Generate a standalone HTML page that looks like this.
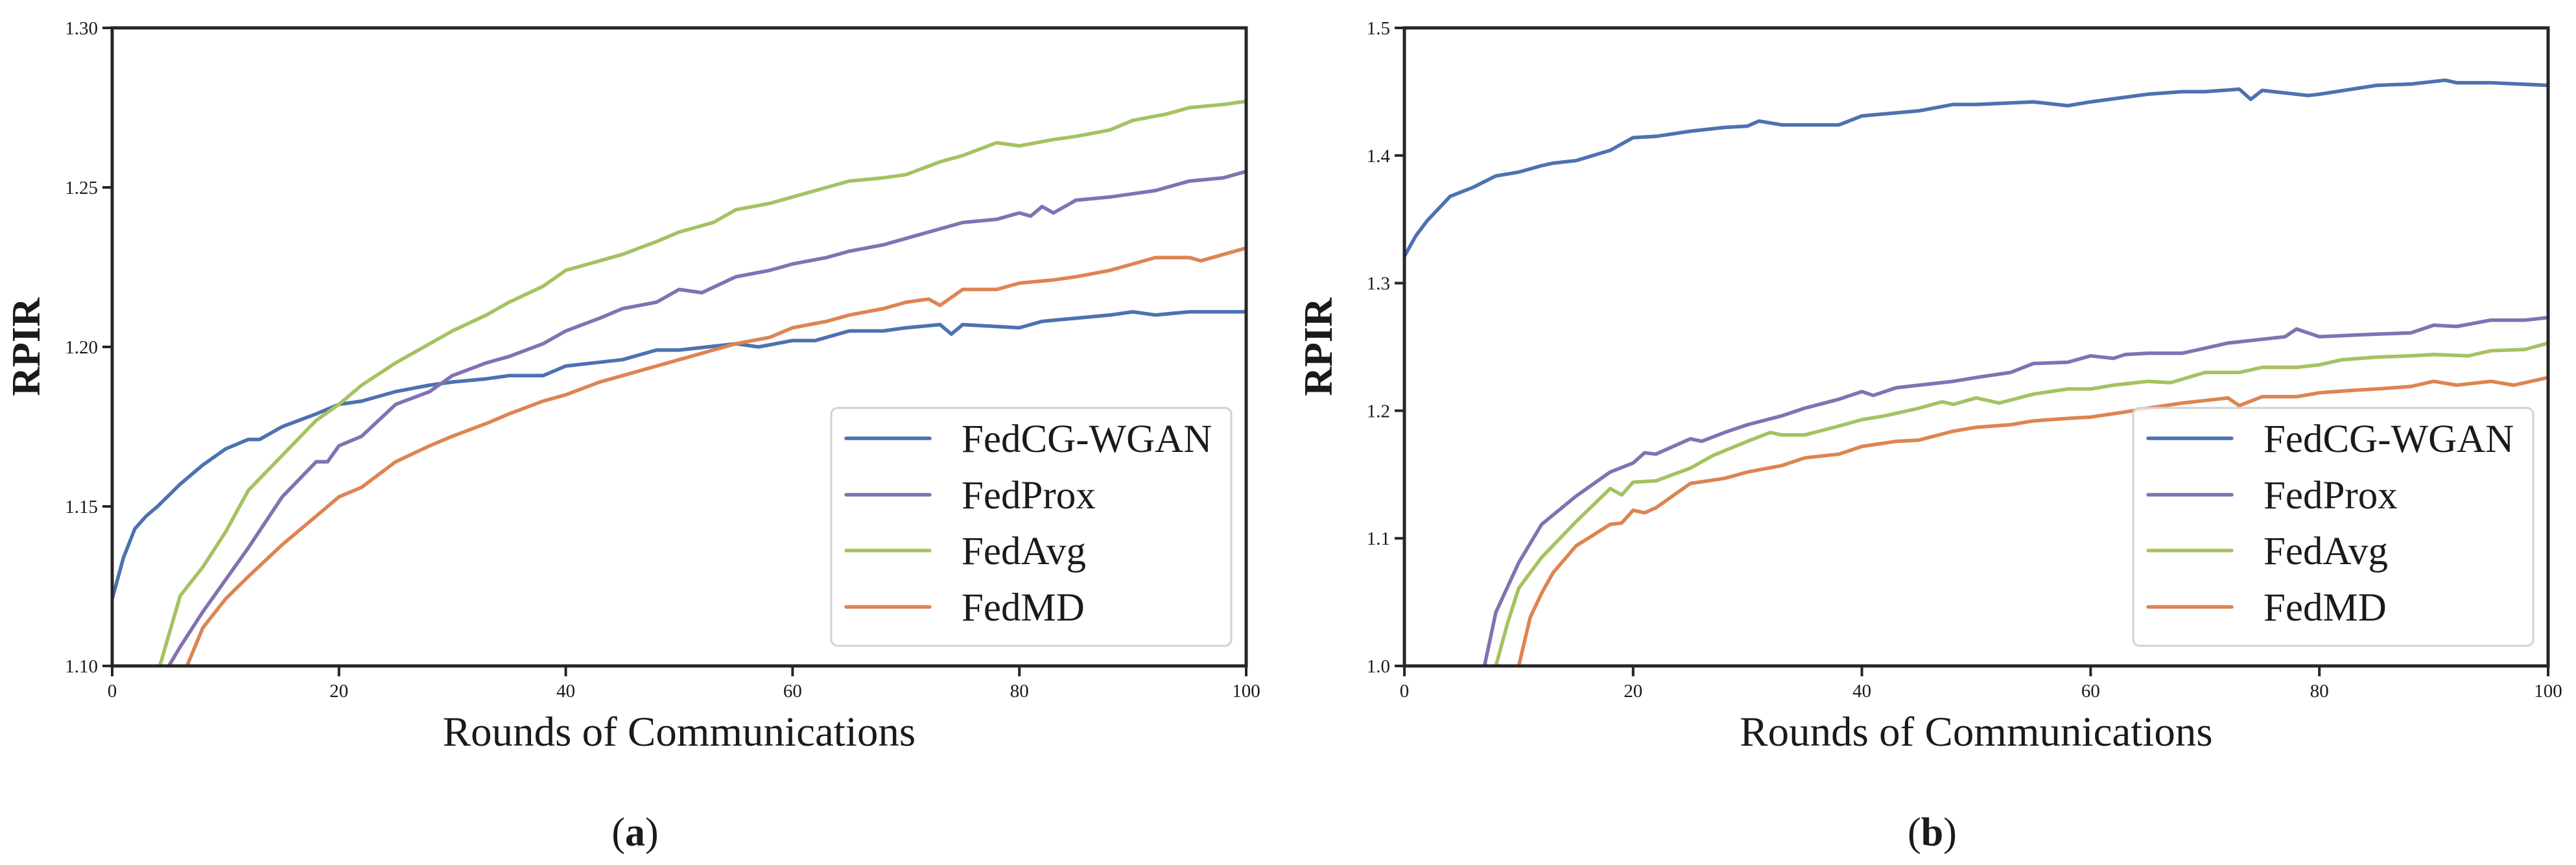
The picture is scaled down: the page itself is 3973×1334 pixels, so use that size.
<!DOCTYPE html>
<html><head><meta charset="utf-8"><style>
html,body{margin:0;padding:0;background:#fff;}
svg{display:block;}
text{font-family:"Liberation Serif",serif;fill:#1a1a1a;}
</style></head><body>
<svg id="fig" width="3973" height="1334" viewBox="0 0 3973 1334" xmlns="http://www.w3.org/2000/svg"></svg>
<script>
// ---- Chart (a) data ----
const roundsA_cg   = [0,1,2,3,4,6,8,10,12,13,15,18,20,22,25,28,30,33,35,38,40,45,48,50,55,57,60,62,65,68,70,73,74,75,80,82,85,88,90,92,95,98,100];
const valsA_cg     = [1.121,1.134,1.143,1.147,1.150,1.157,1.163,1.168,1.171,1.171,1.175,1.179,1.182,1.183,1.186,1.188,1.189,1.190,1.191,1.191,1.194,1.196,1.199,1.199,1.201,1.200,1.202,1.202,1.205,1.205,1.206,1.207,1.204,1.207,1.206,1.208,1.209,1.210,1.211,1.210,1.211,1.211,1.211];
const roundsA_prox = [4,5,6,8,10,12,15,18,19,20,22,25,28,30,33,35,38,40,43,45,48,50,52,55,58,60,63,65,68,70,72,75,78,80,81,82,83,85,88,90,92,95,98,100];
const valsA_prox   = [1.090,1.100,1.106,1.117,1.127,1.137,1.153,1.164,1.164,1.169,1.172,1.182,1.186,1.191,1.195,1.197,1.201,1.205,1.209,1.212,1.214,1.218,1.217,1.222,1.224,1.226,1.228,1.230,1.232,1.234,1.236,1.239,1.240,1.242,1.241,1.244,1.242,1.246,1.247,1.248,1.249,1.252,1.253,1.255];
const roundsA_avg  = [3,4.2,6,8,10,12,15,18,20,22,25,28,30,33,35,38,40,43,45,48,50,53,55,58,60,63,65,68,70,73,75,78,80,83,85,88,90,93,95,98,100];
const valsA_avg    = [1.085,1.100,1.122,1.131,1.142,1.155,1.166,1.177,1.182,1.188,1.195,1.201,1.205,1.210,1.214,1.219,1.224,1.227,1.229,1.233,1.236,1.239,1.243,1.245,1.247,1.250,1.252,1.253,1.254,1.258,1.260,1.264,1.263,1.265,1.266,1.268,1.271,1.273,1.275,1.276,1.277];
const roundsA_md   = [5.5,6.6,8,10,12,15,18,20,22,25,28,30,33,35,38,40,43,45,48,50,53,55,58,60,63,65,68,70,72,73,75,78,80,83,85,88,90,92,95,96,98,100];
const valsA_md     = [1.090,1.100,1.112,1.121,1.128,1.138,1.147,1.153,1.156,1.164,1.169,1.172,1.176,1.179,1.183,1.185,1.189,1.191,1.194,1.196,1.199,1.201,1.203,1.206,1.208,1.210,1.212,1.214,1.215,1.213,1.218,1.218,1.220,1.221,1.222,1.224,1.226,1.228,1.228,1.227,1.229,1.231];
const yTicksA = [1.10,1.15,1.20,1.25,1.30];
const yLabelsA = ["1.10","1.15","1.20","1.25","1.30"];

// ---- Chart (b) data ----
const roundsB_cg   = [0,1,2,4,6,8,10,12,13,15,18,20,22,25,28,30,31,33,35,38,40,45,48,50,55,58,60,65,68,70,73,74,75,78,79,80,85,88,90,91,92,95,100];
const valsB_cg     = [1.321,1.337,1.349,1.368,1.375,1.384,1.387,1.392,1.394,1.396,1.404,1.414,1.415,1.419,1.422,1.423,1.427,1.424,1.424,1.424,1.431,1.435,1.440,1.440,1.442,1.439,1.442,1.448,1.450,1.450,1.452,1.444,1.451,1.448,1.447,1.448,1.455,1.456,1.458,1.459,1.457,1.457,1.455];
const roundsB_prox = [6,7,8,10,12,15,18,20,21,22,25,26,28,30,33,35,38,40,41,43,45,48,50,53,55,58,60,62,63,65,68,70,72,75,77,78,80,85,88,90,92,95,98,100];
const valsB_prox   = [0.980,1.000,1.042,1.081,1.111,1.133,1.152,1.159,1.167,1.166,1.178,1.176,1.183,1.189,1.196,1.202,1.209,1.215,1.212,1.218,1.220,1.223,1.226,1.230,1.237,1.238,1.243,1.241,1.244,1.245,1.245,1.249,1.253,1.256,1.258,1.264,1.258,1.260,1.261,1.267,1.266,1.271,1.271,1.273];
const roundsB_avg  = [7,8,9,10,12,15,18,19,20,22,25,27,30,32,33,35,38,40,42,45,47,48,50,52,55,58,60,62,65,67,70,73,75,78,80,82,85,88,90,93,95,98,100];
const valsB_avg    = [0.970,1.000,1.033,1.061,1.085,1.113,1.139,1.134,1.144,1.145,1.155,1.165,1.176,1.183,1.181,1.181,1.188,1.193,1.196,1.202,1.207,1.205,1.210,1.206,1.213,1.217,1.217,1.220,1.223,1.222,1.230,1.230,1.234,1.234,1.236,1.240,1.242,1.243,1.244,1.243,1.247,1.248,1.253];
const roundsB_md   = [9,10,11,12,13,15,18,19,20,21,22,25,28,30,33,35,38,40,43,45,48,50,53,55,58,60,63,65,68,70,72,73,75,78,80,83,85,88,90,92,95,97,100];
const valsB_md     = [0.970,1.000,1.038,1.057,1.073,1.094,1.111,1.112,1.122,1.120,1.124,1.143,1.147,1.152,1.157,1.163,1.166,1.172,1.176,1.177,1.184,1.187,1.189,1.192,1.194,1.195,1.199,1.202,1.206,1.208,1.210,1.204,1.211,1.211,1.214,1.216,1.217,1.219,1.223,1.220,1.223,1.220,1.226];
const yTicksB = [1.0,1.1,1.2,1.3,1.4,1.5];
const yLabelsB = ["1.0","1.1","1.2","1.3","1.4","1.5"];

const xTicks = [0,20,40,60,80,100];
const seriesNames = ["FedCG-WGAN","FedProx","FedAvg","FedMD"];
const colors = ["#4c72b0","#8172b3","#a5c261","#dd8452"];

const NS = "http://www.w3.org/2000/svg";
const svg = document.getElementById("fig");
function mk(tag, attrs, parent){
  const e = document.createElementNS(NS, tag);
  for (const k in attrs) e.setAttribute(k, attrs[k]);
  (parent||svg).appendChild(e);
  return e;
}

function drawPanel(id, L, R, T, B, yMin, yMax, yTicks, yLabels, series, label, legendX){
  const g = mk("g", {});
  
  
  const xs = r => L + (r/100)*(R-L);
  const ys = v => B - (v-yMin)/(yMax-yMin)*(B-T);
  const clip = mk("clipPath", {id:"clip"+id}, g);
  mk("rect", {x:L, y:T, width:R-L, height:B-T}, clip);
  // series
  series.forEach((s, i) => {
    const d = s.rounds.map((r, k) => (k?"L":"M") + xs(r).toFixed(1) + "," + ys(s.vals[k]).toFixed(1)).join(" ");
    const p = mk("path", {d:d, fill:"none", stroke:colors[i], "stroke-width":5.5, "stroke-linejoin":"round", "clip-path":"url(#clip"+id+")"}, g);
    
    
  });
  // spines
  const frame = mk("rect", {x:L, y:T, width:R-L, height:B-T, fill:"none", stroke:"#262626", "stroke-width":5}, g);
  
  
  // y ticks
  yTicks.forEach((v, i) => {
    const y = ys(v);
    mk("line", {x1:L-15, x2:L, y1:y, y2:y, stroke:"#262626", "stroke-width":4}, g);
    const t = mk("text", {x:L-22, y:y+10, "text-anchor":"end", "font-size":29}, g);
    t.textContent = yLabels[i];
    
    
  });
  // x ticks
  xTicks.forEach(r => {
    const x = xs(r);
    mk("line", {x1:x, x2:x, y1:B, y2:B+16, stroke:"#262626", "stroke-width":4}, g);
    const t = mk("text", {x:x, y:B+48, "text-anchor":"middle", "font-size":29}, g);
    t.textContent = String(r);
    
    
  });
  // axis titles
  const xt = mk("text", {x:(L+R)/2, y:1150, "text-anchor":"middle", "font-size":65}, g);
  xt.textContent = "Rounds of Communications";
  
  
  const yt = mk("text", {x:0, y:0, "text-anchor":"middle", "font-size":62, "font-weight":"bold", transform:"translate("+(L-112)+","+((T+B)/2)+") rotate(-90)"}, g);
  yt.textContent = "RPIR";
  
  
  // legend
  const lg = mk("g", {}, g);
  
  
  mk("rect", {x:legendX, y:629, width:617, height:367, rx:10, fill:"rgba(255,255,255,0.8)", stroke:"#d2d2d2", "stroke-width":3}, lg);
  const rowsY = [676,763,849,936];
  seriesNames.forEach((n, i) => {
    const e = mk("g", {}, lg);
    
    
    mk("line", {x1:legendX+23, x2:legendX+152, y1:rowsY[i], y2:rowsY[i], stroke:colors[i], "stroke-width":5.5, "stroke-linecap":"round"}, e);
    const t = mk("text", {x:legendX+201, y:rowsY[i]+21, "font-size":61}, e);
    t.textContent = n;
  });
  // caption
  const c = mk("text", {x:(L+R)/2-68, y:1304, "text-anchor":"middle", "font-size":62}, g);
  c.innerHTML = '(<tspan font-weight="bold">' + label + '</tspan>)';
  
  
}

drawPanel("a", 173, 1922, 43, 1027, 1.10, 1.30, yTicksA, yLabelsA, [
  {rounds:roundsA_cg, vals:valsA_cg},
  {rounds:roundsA_prox, vals:valsA_prox},
  {rounds:roundsA_avg, vals:valsA_avg},
  {rounds:roundsA_md, vals:valsA_md}
], "a", 1282);

drawPanel("b", 2166, 3930, 43, 1027, 1.0, 1.5, yTicksB, yLabelsB, [
  {rounds:roundsB_cg, vals:valsB_cg},
  {rounds:roundsB_prox, vals:valsB_prox},
  {rounds:roundsB_avg, vals:valsB_avg},
  {rounds:roundsB_md, vals:valsB_md}
], "b", 3290);
</script>
</body></html>
